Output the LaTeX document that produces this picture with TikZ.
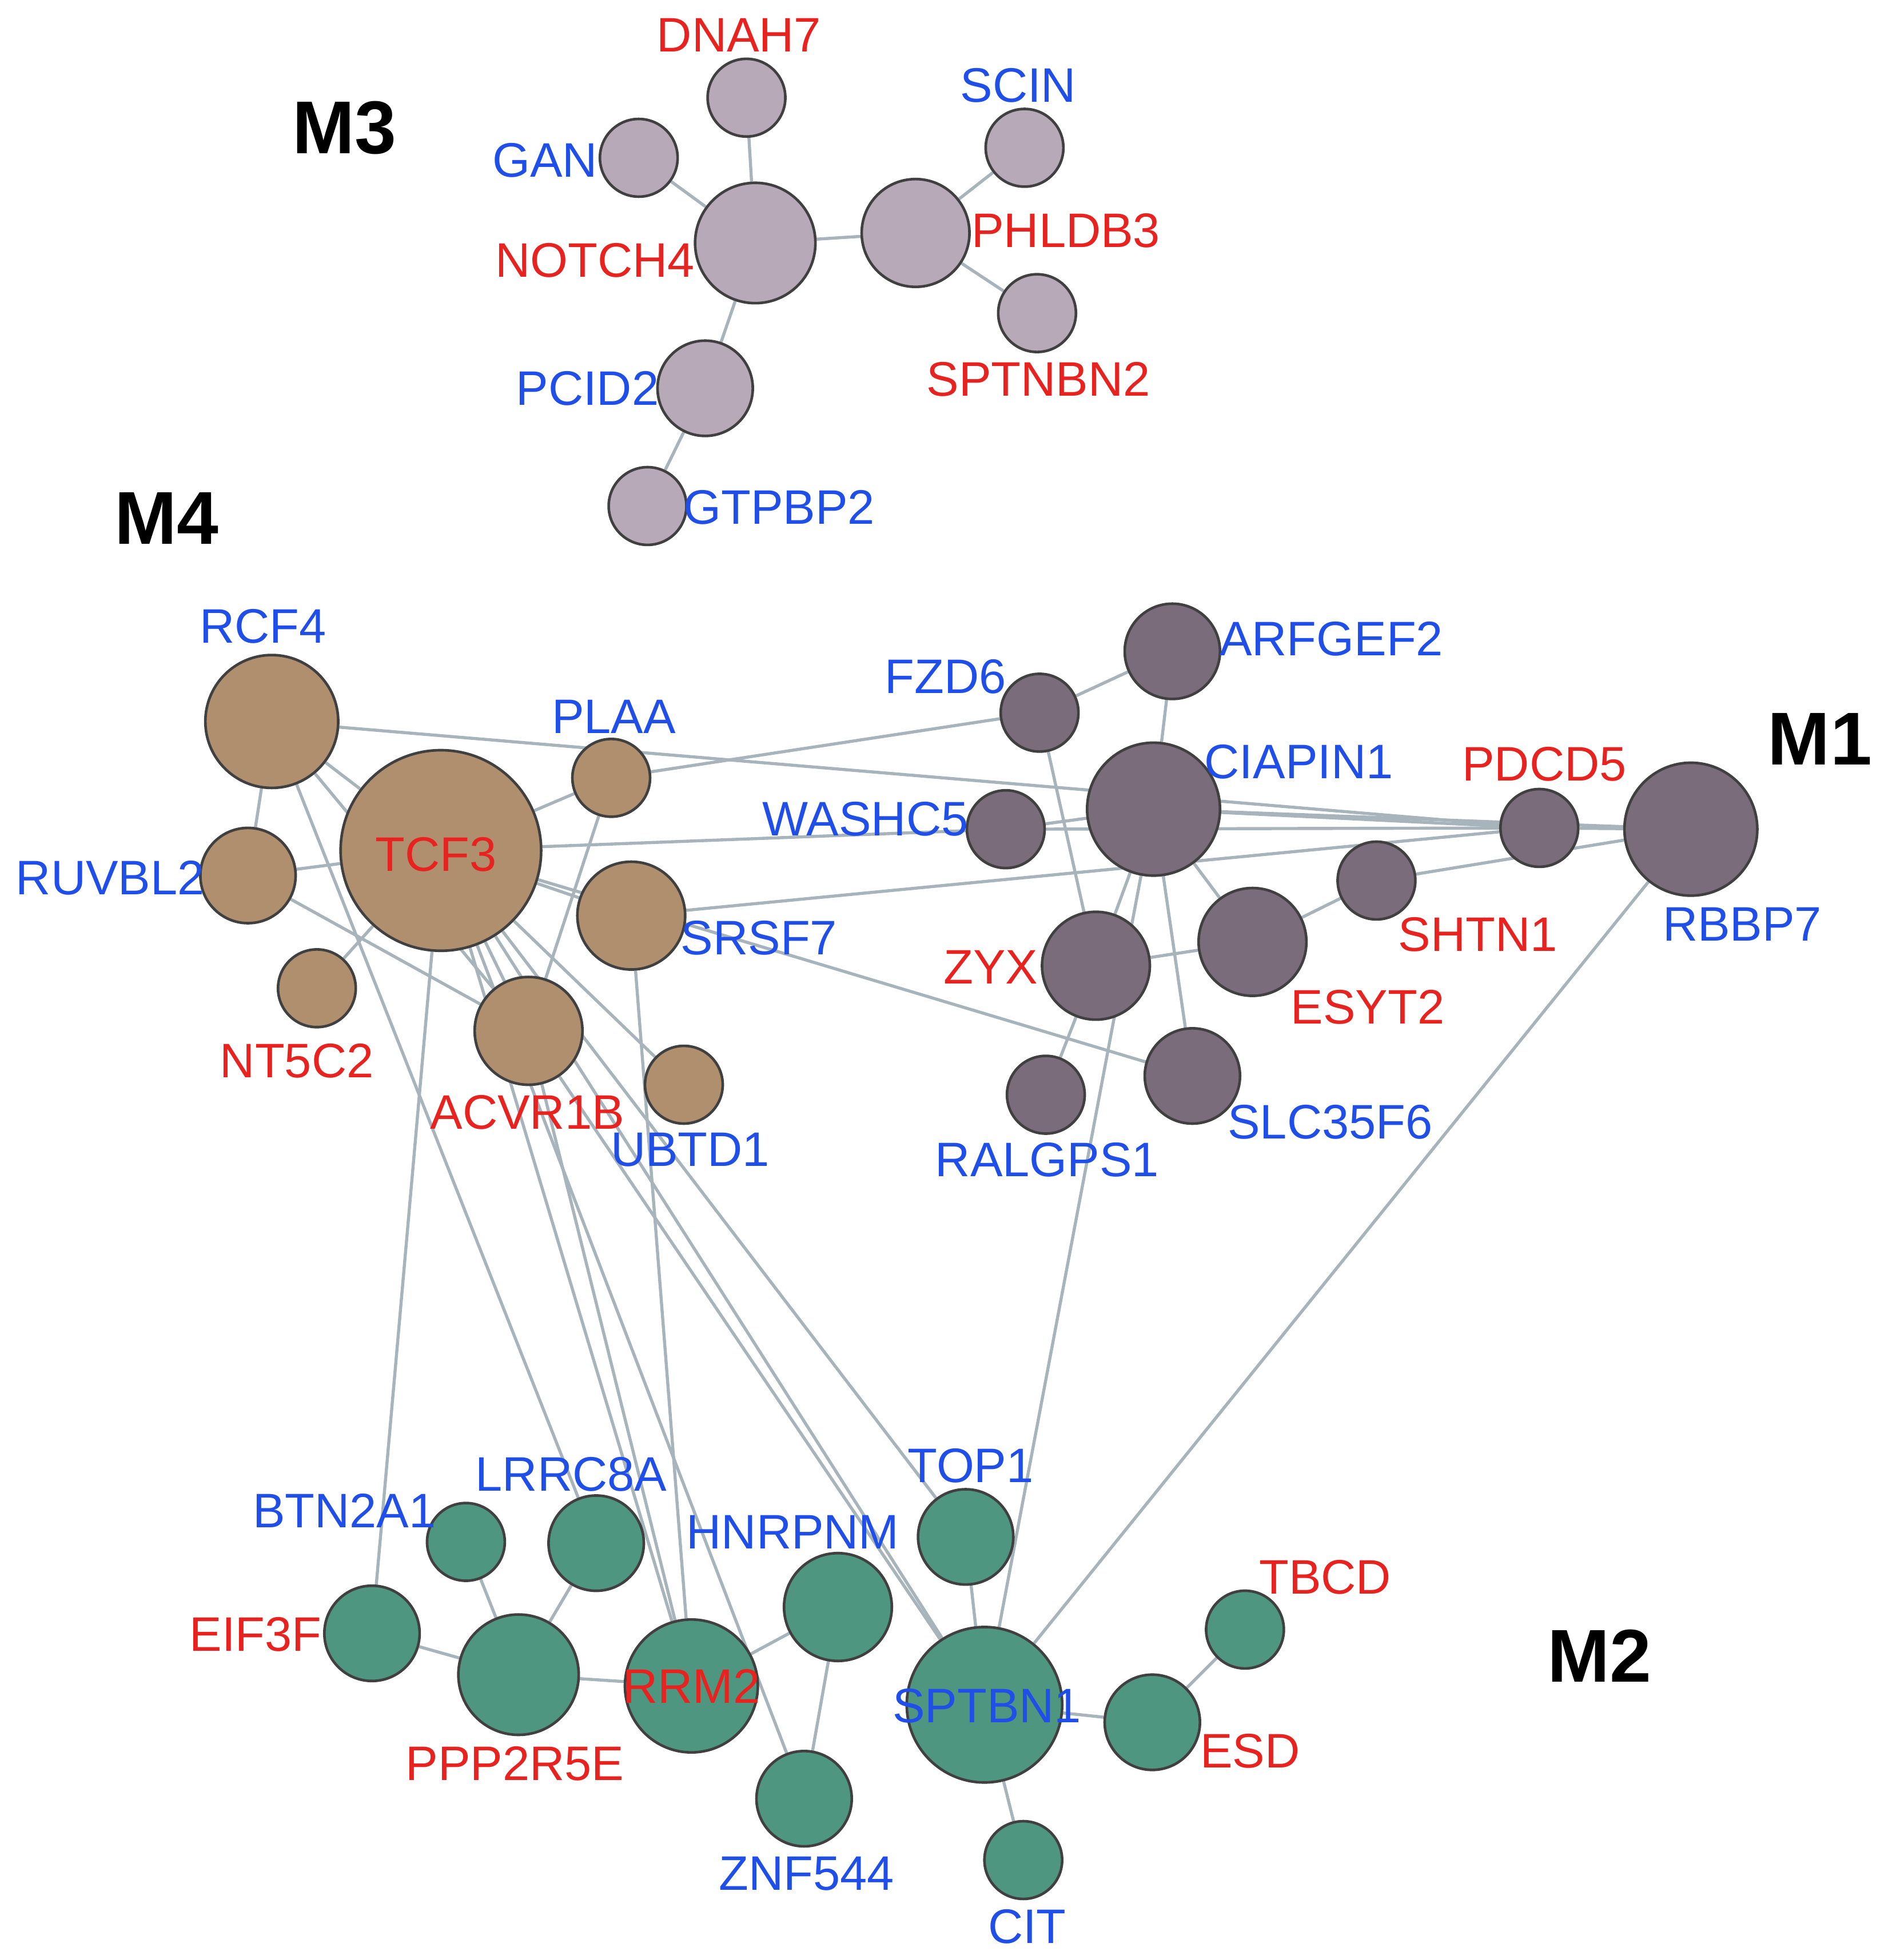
\documentclass[tikz,border=0pt]{standalone}
\usepackage{fontspec}
\setmainfont{Liberation Sans}
\usepackage{tikz}
\pgfdeclarelayer{bg}
\pgfsetlayers{bg,main}
\definecolor{lblue}{HTML}{1F4FE8}
\definecolor{lred}{HTML}{E8231F}
\definecolor{mthree}{HTML}{B8A9B8}
\definecolor{mfour}{HTML}{B08F6F}
\definecolor{mone}{HTML}{7B6C7B}
\definecolor{mtwo}{HTML}{4F9680}
\definecolor{edgec}{HTML}{A8B4BC}
\tikzset{
  gene/.style={circle, draw=black!75, line width=0.6pt, inner sep=0pt, minimum size=#1*0.02cm},
  gb/.style={text=lblue, font=\fontsize{11pt}{12pt}\selectfont},
  gr/.style={text=lred, font=\fontsize{11pt}{12pt}\selectfont},
  mod/.style={font=\fontsize{17pt}{18pt}\selectfont\bfseries},
  link/.style={draw=edgec, line width=0.7pt}
}
\begin{document}
\begin{tikzpicture}[x=0.01cm, y=-0.01cm]
        \useasboundingbox (0,0) rectangle (1520,1564);
        % M3
        \node[gene=31, fill=mthree] (dnah7) at (596,78) {};
        \node[gene=31, fill=mthree] (gan) at (510,126) {};
        \node[gene=48, fill=mthree] (notch4) at (603,194) {};
        \node[gene=43, fill=mthree] (phldb3) at (731,186) {};
        \node[gene=31, fill=mthree] (scin) at (818,118) {};
        \node[gene=31, fill=mthree] (sptnbn2) at (828,250) {};
        \node[gene=38, fill=mthree] (pcid2) at (563,310) {};
        \node[gene=31, fill=mthree] (gtpbp2) at (517,404) {};
        % M4
        \node[gene=53, fill=mfour] (rcf4) at (217,576) {};
        \node[gene=80, fill=mfour] (tcf3) at (352,679) {};
        \node[gene=31, fill=mfour] (plaa) at (488,621) {};
        \node[gene=38, fill=mfour] (ruvbl2) at (198,699) {};
        \node[gene=43, fill=mfour] (srsf7) at (504,731) {};
        \node[gene=31, fill=mfour] (nt5c2) at (253,789) {};
        \node[gene=43, fill=mfour] (acvr1b) at (422,823) {};
        \node[gene=31, fill=mfour] (ubtd1) at (546,866) {};
        % M1
        \node[gene=38, fill=mone] (arfgef2) at (936,520) {};
        \node[gene=31, fill=mone] (fzd6) at (830,569) {};
        \node[gene=53, fill=mone] (ciapin1) at (921,646) {};
        \node[gene=31, fill=mone] (washc5) at (803,662) {};
        \node[gene=31, fill=mone] (pdcd5) at (1229,661) {};
        \node[gene=53, fill=mone] (rbbp7) at (1350,662) {};
        \node[gene=31, fill=mone] (shtn1) at (1099,703) {};
        \node[gene=43, fill=mone] (zyx) at (875,771) {};
        \node[gene=43, fill=mone] (esyt2) at (1000,752) {};
        \node[gene=38, fill=mone] (slc35f6) at (952,859) {};
        \node[gene=31, fill=mone] (ralgps1) at (835,874) {};
        % M2
        \node[gene=31, fill=mtwo] (btn2a1) at (372,1231) {};
        \node[gene=38, fill=mtwo] (lrrc8a) at (476,1232) {};
        \node[gene=38, fill=mtwo] (top1) at (771,1227) {};
        \node[gene=43, fill=mtwo] (hnrpnm) at (669,1283) {};
        \node[gene=38, fill=mtwo] (eif3f) at (297,1304) {};
        \node[gene=48, fill=mtwo] (ppp2r5e) at (414,1337) {};
        \node[gene=53, fill=mtwo] (rrm2) at (552,1346) {};
        \node[gene=62, fill=mtwo] (sptbn1) at (786,1361) {};
        \node[gene=31, fill=mtwo] (tbcd) at (994,1301) {};
        \node[gene=38, fill=mtwo] (esd) at (920,1375) {};
        \node[gene=38, fill=mtwo] (znf544) at (642,1436) {};
        \node[gene=31, fill=mtwo] (cit) at (817,1485) {};
        % edges
        \begin{pgfonlayer}{bg}
        \foreach \a/\b in {gan/notch4, dnah7/notch4, notch4/phldb3, phldb3/scin, phldb3/sptnbn2,
            notch4/pcid2, pcid2/gtpbp2,
            rcf4/tcf3, rcf4/pdcd5, rcf4/acvr1b, rcf4/lrrc8a, rcf4/ruvbl2,
            tcf3/plaa, tcf3/ruvbl2, tcf3/srsf7, tcf3/nt5c2, tcf3/acvr1b, tcf3/ubtd1,
            tcf3/washc5, tcf3/slc35f6, tcf3/eif3f, tcf3/rrm2, tcf3/sptbn1, tcf3/znf544,
            tcf3/top1, ruvbl2/acvr1b,
            plaa/fzd6, plaa/acvr1b, srsf7/rrm2, srsf7/pdcd5, acvr1b/rrm2, acvr1b/sptbn1,
            fzd6/arfgef2, arfgef2/ciapin1, fzd6/zyx, washc5/ciapin1, washc5/pdcd5,
            ciapin1/pdcd5, ciapin1/rbbp7, ciapin1/zyx, ciapin1/esyt2, ciapin1/slc35f6,
            zyx/esyt2, zyx/ralgps1, shtn1/esyt2, pdcd5/rbbp7, shtn1/rbbp7,
            rbbp7/sptbn1, ciapin1/sptbn1,
            btn2a1/ppp2r5e, lrrc8a/ppp2r5e, eif3f/ppp2r5e, ppp2r5e/rrm2, rrm2/hnrpnm,
            hnrpnm/znf544, top1/sptbn1, sptbn1/esd, esd/tbcd, sptbn1/cit}
            \draw[link] (\a) -- (\b);
        \end{pgfonlayer}
        % labels
        \node[gr] at (590,28) {DNAH7};
        \node[gb] at (435,128) {GAN};
        \node[gr] at (475,208) {NOTCH4};
        \node[gr] at (851,184) {PHLDB3};
        \node[gb] at (813,68) {SCIN};
        \node[gr] at (829,303) {SPTNBN2};
        \node[gb] at (469,310) {PCID2};
        \node[gb] at (622,405) {GTPBP2};
        \node[gb] at (210,500) {RCF4};
        \node[gr] at (348,682) {TCF3};
        \node[gb] at (490,572) {PLAA};
        \node[gb] at (88,701) {RUVBL2};
        \node[gb] at (606,749) {SRSF7};
        \node[gr] at (237,847) {NT5C2};
        \node[gr] at (421,888) {ACVR1B};
        \node[gb] at (551,918) {UBTD1};
        \node[gb] at (755,540) {FZD6};
        \node[gb] at (1063,510) {ARFGEF2};
        \node[gb] at (1037,608) {CIAPIN1};
        \node[gb] at (691,654) {WASHC5};
        \node[gr] at (1233,610) {PDCD5};
        \node[gb] at (1391,738) {RBBP7};
        \node[gr] at (1180,746) {SHTN1};
        \node[gr] at (791,772) {ZYX};
        \node[gr] at (1092,804) {ESYT2};
        \node[gb] at (1062,896) {SLC35F6};
        \node[gb] at (836,926) {RALGPS1};
        \node[gb] at (275,1206) {BTN2A1};
        \node[gb] at (456,1177) {LRRC8A};
        \node[gb] at (775,1170) {TOP1};
        \node[gb] at (633,1223) {HNRPNM};
        \node[gr] at (204,1305) {EIF3F};
        \node[gr] at (411,1408) {PPP2R5E};
        \node[gr] at (552,1346) {RRM2};
        \node[gb] at (788,1362) {SPTBN1};
        \node[gr] at (1058,1259) {TBCD};
        \node[gr] at (998,1398) {ESD};
        \node[gb] at (644,1496) {ZNF544};
        \node[gb] at (820,1538) {CIT};
        \node[mod] at (275,102) {M3};
        \node[mod] at (133,414) {M4};
        \node[mod] at (1453,590) {M1};
        \node[mod] at (1277,1322) {M2};
\end{tikzpicture}
\end{document}
